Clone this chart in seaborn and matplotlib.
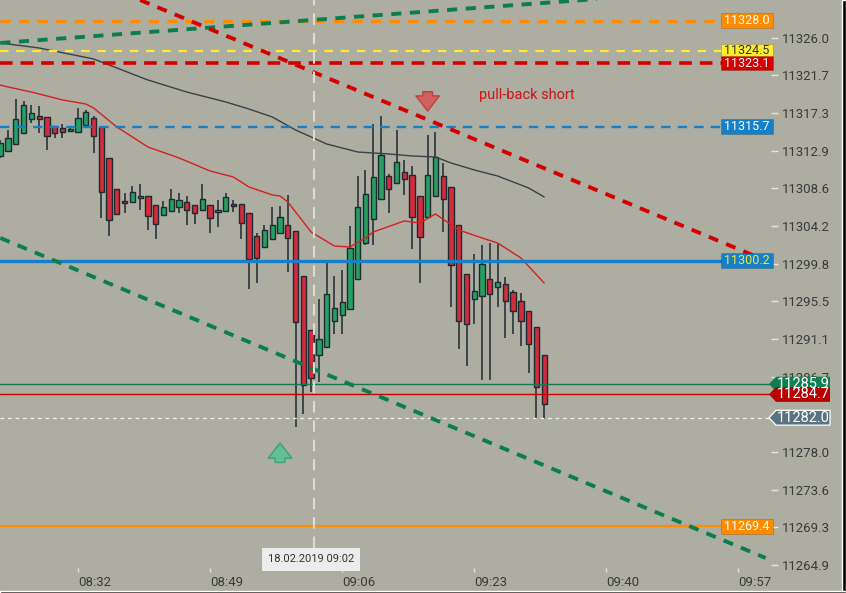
import pandas as pd
import matplotlib
matplotlib.use("Agg")
import matplotlib.pyplot as plt
import matplotlib.dates as mdates
import matplotlib.transforms as mtrans
from matplotlib.patches import Polygon, Rectangle
import seaborn as sns

day = "2019-02-18 "

# 1-minute candles 08:22 .. 09:32
candle_times = pd.date_range(day + "08:22", periods=71, freq="min")
opens = [11312.33, 11312.91, 11313.72, 11314.99, 11316.62, 11316.96, 11316.85, 11315.80, 11315.57, 11315.22,
         11315.11, 11315.92, 11316.73, 11315.69, 11312.10, 11308.50, 11307.11, 11306.99, 11307.46, 11307.69,
         11306.65, 11305.49, 11305.95, 11306.42, 11306.99, 11306.65, 11306.07, 11306.65, 11305.84, 11305.95,
         11306.69, 11306.77, 11305.72, 11303.06, 11301.78, 11302.71, 11303.41, 11304.33, 11303.64, 11298.42,
         11292.17, 11289.27, 11290.20, 11293.21, 11293.91, 11294.60, 11298.08, 11302.25, 11305.03, 11307.35,
         11310.01, 11309.20, 11310.47, 11310.13, 11307.69, 11305.26, 11307.69, 11310.01, 11308.74, 11304.33,
         11298.66, 11295.76, 11296.10, 11298.08, 11297.15, 11297.50, 11296.57, 11295.53, 11294.37, 11292.51,
         11289.27]
highs = [11314.18, 11315.34, 11318.93, 11318.70, 11318.24, 11318.12, 11316.90, 11315.80, 11316.04, 11315.69,
         11317.89, 11317.66, 11316.96, 11315.70, 11312.10, 11308.50, 11308.04, 11308.85, 11309.08, 11307.70,
         11306.70, 11307.11, 11308.50, 11308.04, 11307.69, 11306.70, 11309.08, 11306.70, 11307.23, 11308.04,
         11307.23, 11306.80, 11305.72, 11303.41, 11304.33, 11306.42, 11306.53, 11307.81, 11303.64, 11298.42,
         11292.17, 11295.76, 11299.93, 11298.42, 11299.12, 11304.22, 11310.01, 11310.70, 11316.04, 11316.96,
         11310.24, 11315.34, 11311.86, 11311.17, 11307.69, 11314.76, 11315.11, 11311.52, 11308.74, 11304.33,
         11298.66, 11300.97, 11302.02, 11302.25, 11302.13, 11298.31, 11296.80, 11296.45, 11294.37, 11292.51,
         11289.27]
lows = [11312.10, 11312.80, 11313.60, 11314.90, 11316.15, 11314.99, 11313.02, 11314.41, 11314.41, 11315.15,
        11315.00, 11315.85, 11312.68, 11305.14, 11303.06, 11305.49, 11305.72, 11306.90, 11306.07, 11303.75,
        11302.71, 11305.40, 11305.85, 11305.72, 11304.33, 11304.45, 11306.00, 11303.41, 11304.10, 11305.85,
        11305.84, 11302.71, 11296.92, 11297.61, 11301.70, 11302.60, 11303.30, 11298.89, 11280.93, 11282.43,
        11284.98, 11286.14, 11290.10, 11291.70, 11291.70, 11294.50, 11298.00, 11302.02, 11302.02, 11307.30,
        11305.72, 11309.10, 11307.81, 11301.55, 11297.61, 11305.20, 11307.60, 11303.52, 11294.83, 11289.96,
        11287.99, 11292.86, 11286.37, 11286.37, 11294.83, 11291.24, 11291.70, 11290.31, 11287.18, 11281.91,
        11281.91]
closes = [11313.83, 11314.41, 11316.62, 11318.24, 11317.31, 11316.62, 11314.64, 11314.99, 11315.11, 11315.46,
          11316.73, 11317.43, 11314.64, 11308.16, 11304.91, 11305.61, 11306.88, 11308.16, 11307.69, 11305.37,
          11304.45, 11306.42, 11307.35, 11307.23, 11306.07, 11305.72, 11307.35, 11305.14, 11306.07, 11307.58,
          11306.53, 11304.57, 11300.39, 11300.51, 11303.75, 11304.33, 11305.26, 11302.83, 11293.09, 11285.79,
          11286.61, 11291.12, 11296.34, 11294.72, 11295.41, 11301.67, 11306.42, 11307.93, 11309.91, 11312.44,
          11308.50, 11311.63, 11309.66, 11305.26, 11302.94, 11310.13, 11312.21, 11307.35, 11299.70, 11293.21,
          11292.86, 11296.68, 11299.81, 11296.34, 11297.73, 11295.53, 11294.37, 11293.21, 11290.54, 11285.56,
          11283.59]

# moving averages
slow_times = ["08:22", "08:27", "08:34", "08:41", "08:46", "08:51", "08:54", "08:57", "09:00", "09:02",
              "09:04", "09:08", "09:12", "09:15", "09:18", "09:20", "09:23", "09:26", "09:30", "09:32"]
slow_vals = [11325.42, 11324.84, 11323.57, 11321.13, 11319.74, 11318.59, 11317.77, 11316.85, 11315.34, 11314.53,
             11313.72, 11312.79, 11312.56, 11312.33, 11312.21, 11311.52, 11310.71, 11310.01, 11308.62, 11307.58]
fast_times = ["08:22", "08:23", "08:26", "08:30", "08:33", "08:34", "08:37", "08:41", "08:45", "08:49",
              "08:52", "08:54", "08:57", "08:58", "08:59", "09:02", "09:05", "09:07", "09:09", "09:10",
              "09:14", "09:16", "09:18", "09:21", "09:24", "09:26", "09:29", "09:32"]
fast_vals = [11320.55, 11320.32, 11319.74, 11318.82, 11318.35, 11317.89, 11315.69, 11313.37, 11312.10, 11310.59,
             11309.89, 11308.74, 11307.81, 11307.69, 11307.00, 11303.52, 11301.90, 11301.78, 11302.83, 11303.52,
             11304.80, 11304.56, 11305.61, 11303.75, 11302.83, 11302.25, 11300.51, 11297.61]

# horizontal levels
level_prices = [11328.0, 11324.5, 11323.1, 11315.7, 11300.2, 11269.4]
level_labels = ["11328.0", "11324.5", "11323.1", "11315.7", "11300.2", "11269.4"]
tag_prices = [11285.9, 11284.7, 11282.0]
tag_labels = ["11285.9", "11284.7", "11282.0"]

# trend lines (start/end)
green_top_t = ["08:22:00", "09:42:00"]
green_top_p = [11325.42, 11330.73]
red_down_t = ["08:40:00", "10:00:40"]
red_down_p = [11330.40, 11300.16]
green_low_t = ["08:22:00", "10:00:30"]
green_low_p = [11302.83, 11265.75]

price_ticks = [11326.0, 11321.7, 11317.3, 11312.9, 11308.6, 11304.2, 11299.8, 11295.5,
               11291.1, 11286.7, 11278.0, 11273.6, 11269.3, 11264.9]
time_ticks = ["08:32", "08:49", "09:06", "09:23", "09:40", "09:57"]

cursor_time = "09:02:20"
cursor_text = "18.02.2019 09:02"
up_signal = ("08:58", 11276.5, 11279.4)
down_signal = ("09:17", 11320.1, 11317.2)
note_time, note_price, note_text = "09:23:35", 11319.4, "pull-back short"

bg = "#adada1"
sns.set_style("white", rc={"axes.facecolor": bg, "figure.facecolor": bg})
plt.rcParams["font.family"] = ["Roboto", "DejaVu Sans"]


def ts(t):
    return pd.Timestamp(day + t)


fig = plt.figure(figsize=(8.46, 5.93), dpi=100)
ax = fig.add_axes([0, 1 - 568 / 593, 771 / 846, 568 / 593])
for s in ax.spines.values():
    s.set_visible(False)

edge = "#1d2a31"
df = pd.DataFrame({"t": candle_times, "o": opens, "h": highs, "l": lows, "c": closes})
df["up"] = df["c"] >= df["o"]
df["bottom"] = df[["o", "c"]].min(axis=1)
df["height"] = (df["c"] - df["o"]).abs().clip(lower=0.18)
ax.vlines(df["t"], df["l"], df["h"], color=edge, lw=1.1, zorder=3)
ax.bar(df["t"], df["height"], bottom=df["bottom"], width=0.68 / 1440,
       color=["#25a062" if u else "#d42b3d" for u in df["up"]],
       edgecolor=edge, linewidth=1.0, zorder=4)

# moving averages
sns.lineplot(x=[ts(t) for t in slow_times], y=slow_vals, color="#3b4044", lw=1.0, ax=ax, zorder=5)
sns.lineplot(x=[ts(t) for t in fast_times], y=fast_vals, color="#d42020", lw=1.0, ax=ax, zorder=5)

# horizontal levels
ax.axhline(11328.0, color="#ff8c00", lw=2.3, ls=(0, (3.2, 2.6)), zorder=5)
ax.axhline(11324.5, color="#ffec2a", lw=1.6, ls=(0, (3.8, 3.5)), zorder=5)
ax.axhline(11323.1, color="#d40000", lw=2.6, ls=(0, (3.5, 2.2)), zorder=5)
ax.axhline(11315.7, color="#1580c8", lw=1.7, ls=(0, (4.0, 3.0)), zorder=5)
ax.axhline(11300.2, color="#1580c8", lw=2.4, zorder=5)
ax.axhline(11269.4, color="#ff8c00", lw=1.6, zorder=5)
ax.axhline(11285.9, color="#137a4d", lw=1.0, zorder=5)
ax.axhline(11284.7, color="#c80000", lw=1.0, zorder=5)
ax.axhline(11282.0, color="#f2f2f2", lw=0.9, ls=(0, (3, 3)), zorder=5)

# trend lines
ax.plot([ts(t) for t in green_top_t], green_top_p, color="#0b7d4e", lw=2.8, ls=(0, (2.6, 2.2)), zorder=5)
ax.plot([ts(t) for t in red_down_t], red_down_p, color="#d40000", lw=2.8, ls=(0, (2.6, 2.2)), zorder=5)
ax.plot([ts(t) for t in green_low_t], green_low_p, color="#0b7d4e", lw=2.8, ls=(0, (2.6, 2.2)), zorder=5)

# cursor
ax.vlines(ts(cursor_time), 11266.9, 11331, color="#dcdcd6", lw=1.5, ls=(0, (5.5, 3.8)), zorder=6)
btrans = mtrans.blended_transform_factory(ax.transData, ax.transAxes)
ax.text(ts("09:02:00"), 0.015, cursor_text, transform=btrans, ha="center", va="center",
        fontsize=8, color="#333333", zorder=9,
        bbox=dict(boxstyle="square,pad=0.55", fc="#ececec", ec="none"))

# signals
arrow = "simple,head_length=0.55,head_width=0.85,tail_width=0.35"
ax.annotate("", xy=(ts(up_signal[0]), up_signal[2]), xytext=(ts(up_signal[0]), up_signal[1]),
            arrowprops=dict(arrowstyle=arrow, mutation_scale=20, fc="#55c293", ec="#2f9f6c",
                            alpha=0.85, lw=1), zorder=7)
ax.annotate("", xy=(ts(down_signal[0]), down_signal[2]), xytext=(ts(down_signal[0]), down_signal[1]),
            arrowprops=dict(arrowstyle=arrow, mutation_scale=20, fc="#d65454", ec="#c23434",
                            alpha=0.85, lw=1), zorder=7)
ax.text(ts(note_time), note_price, note_text, color="#d01515", fontsize=10.5, ha="left", va="center", zorder=7)

# level boxes
rtrans = mtrans.blended_transform_factory(ax.transAxes, ax.transData)
box_style = {
    "11328.0": ("#ff8c00", "white"),
    "11324.5": ("#ffec2a", "#333333"),
    "11323.1": ("#d40000", "white"),
    "11315.7": ("#1580c8", "white"),
    "11300.2": ("#1580c8", "#f5e63a"),
    "11269.4": ("#ff8c00", "white"),
}
half = 7.4 / 8.63
for p, lab in zip(level_prices, level_labels):
    fc, tc = box_style[lab]
    ax.add_patch(Rectangle((721 / 771, p - half), 52 / 771, 2 * half, transform=rtrans,
                           fc=fc, ec="#00000030", lw=0.6, clip_on=False, zorder=8))
    ax.text(747 / 771, p, lab, transform=rtrans, ha="center", va="center", fontsize=9,
            color=tc, zorder=9, clip_on=False)

# price tags on the axis
tag_style = [("#0e7f50", "none"), ("#b80000", "none"), ("#5b7282", "white")]
for p, lab, (fc, ec) in zip(tag_prices, tag_labels, tag_style):
    pts = [(769 / 771, p), (776 / 771, p + half), (830 / 771, p + half),
           (830 / 771, p - half), (776 / 771, p - half)]
    ax.add_patch(Polygon(pts, closed=True, transform=rtrans, fc=fc, ec=ec, lw=0.9,
                         clip_on=False, zorder=10))
    ax.text(803 / 771, p, lab, transform=rtrans, ha="center", va="center", fontsize=10.5,
            color="white", zorder=11, clip_on=False)

# axes
ax.set_ylim(11264.59, 11330.40)
x0 = mdates.date2num(ts("08:22")) - 0.04 / 1440
ax.set_xlim(x0, x0 + 99.23 / 1440)
ax.yaxis.tick_right()
ax.set_yticks(price_ticks)
ax.set_yticklabels([f"{v:.1f}" for v in price_ticks])
ax.set_xticks([mdates.date2num(ts(t)) for t in time_ticks])
ax.set_xticklabels(time_ticks)
ax.tick_params(axis="y", colors="#e4e4e4", labelcolor="#3a3a3a", length=5, width=1,
               labelsize=9.5, pad=3, right=True, left=False)
ax.tick_params(axis="x", colors="#e4e4e4", labelcolor="#3a3a3a", length=3, width=1,
               labelsize=9.5, pad=3, bottom=True)
plt.setp(ax.get_xticklabels(), ha="left")
ax.set_xlabel("")
ax.set_ylabel("")
ax.grid(False)

# dark frame at the right and bottom edges
fig.patches.append(Rectangle((842 / 846, 0), 4 / 846, 1, transform=fig.transFigure, fc="black", zorder=20))
fig.patches.append(Rectangle((0, 0), 1, 2.5 / 593, transform=fig.transFigure, fc="black", zorder=20))

fig.savefig("out.png", dpi=100, facecolor=bg)
